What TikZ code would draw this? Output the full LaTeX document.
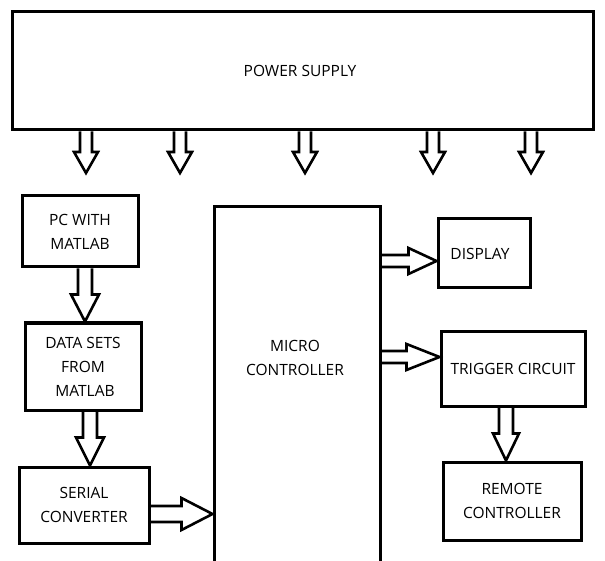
\documentclass[tikz,border=0pt]{standalone}
\usepackage{fontspec}
\setmainfont{Open Sans}
\usetikzlibrary{calc}
\tikzset{
  box/.style={draw, line width=3pt, rectangle, inner sep=0pt, align=center,
    font=\fontsize{15.5}{24}\selectfont},
  txt/.style={inner sep=0pt, align=center, font=\fontsize{15.5}{24}\selectfont},
  blk/.style={draw, line width=2.6pt, line join=miter},
}
\newcommand\blockarrow[5]{%
  \draw[blk] let \p1=#1, \p2=#2, \n1={atan2(\y2-\y1,\x2-\x1)} in
    ($(\p1)+(\n1+90:#3pt)$)
    -- ($(\p2)+(\n1+180:#5pt)+(\n1+90:#3pt)$)
    -- ($(\p2)+(\n1+180:#5pt)+(\n1+90:#4pt)$)
    -- (\p2)
    -- ($(\p2)+(\n1+180:#5pt)+(\n1-90:#4pt)$)
    -- ($(\p2)+(\n1+180:#5pt)+(\n1-90:#3pt)$)
    -- ($(\p1)+(\n1-90:#3pt)$);}
\begin{document}
\begin{tikzpicture}[x=1pt,y=-1pt]
\fill[white] (0,0) rectangle (605,561);
\useasboundingbox (0,0) rectangle (605,561);

\node[box, minimum width=581pt, minimum height=118pt] (ps) at (302.5,71) {};
\node[txt] (pstext) at (300,71) {POWER SUPPLY};

\node[box, minimum width=116pt, minimum height=71pt] (pc) at (80,231.5) {PC WITH\\MATLAB};
\node[box, minimum width=116pt, minimum height=87pt] (data) at (83,366.5) {DATA SETS\\FROM\\\ MATLAB};
\node[box, minimum width=130pt, minimum height=76pt] (serial) at (84,505) {SERIAL\\CONVERTER};
\node[box, minimum width=166pt, minimum height=372pt] (micro) at (297,393) {};
\node[txt] (mctext) at (295,358) {MICRO\\CONTROLLER};
\node[box, minimum width=92pt, minimum height=69pt] (display) at (484,253.5) {};
\node[txt] (disptext) at (480,254) {DISPLAY};
\node[box, minimum width=144pt, minimum height=75pt] (trigger) at (513,368.5) {TRIGGER CIRCUIT};
\node[box, minimum width=138pt, minimum height=78pt] (remote) at (512,501) {REMOTE\\CONTROLLER};

% power supply outputs
\foreach \i/\xx in {1/86,2/180,3/305,4/433,5/531}{
  \coordinate (pw\i) at (\xx,173);
  \blockarrow{(ps.south -| pw\i)}{(pw\i)}{6}{12}{21}
}

\coordinate (a1) at (85,0);
\blockarrow{(pc.south -| a1)}{(data.north -| a1)}{7}{14}{27}
\coordinate (a2) at (90,0);
\blockarrow{(data.south -| a2)}{(serial.north -| a2)}{7}{14}{28}
\coordinate (a3) at (0,514);
\blockarrow{(serial.east |- a3)}{(micro.west |- a3)}{8}{16}{31}
\coordinate (a4) at (0,261);
\blockarrow{(micro.east |- a4)}{(display.west |- a4)}{6}{13}{28}
\coordinate (a5) at (0,357);
\blockarrow{(micro.east |- a5)}{(trigger.west |- a5)}{6}{13}{33}
\coordinate (a6) at (506,0);
\blockarrow{(trigger.south -| a6)}{(remote.north -| a6)}{7}{13}{27}
\end{tikzpicture}
\end{document}
